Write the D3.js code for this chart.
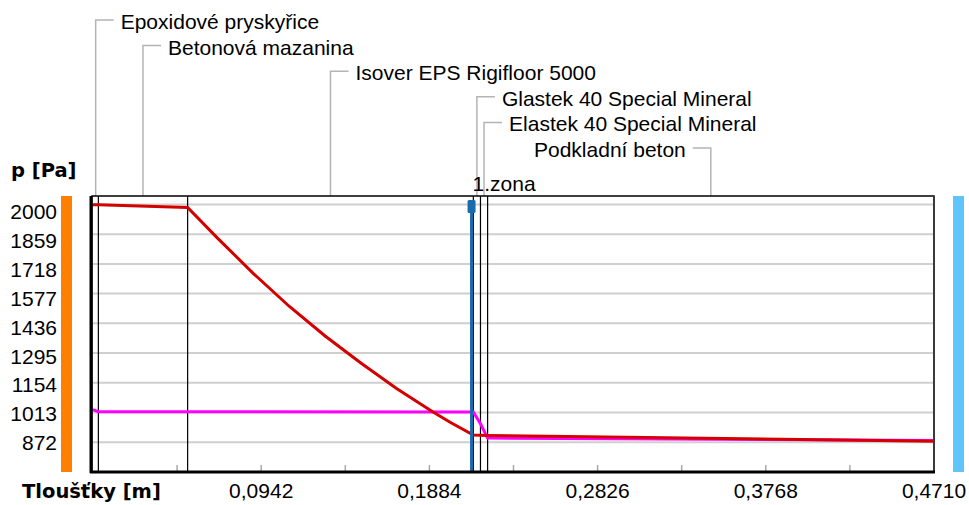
<!DOCTYPE html>
<html>
<head>
<meta charset="utf-8">
<script src="https://cdn.jsdelivr.net/npm/d3@7"></script>
<style>
  html, body { margin: 0; padding: 0; background: #fff; }
  text { font-family: "Liberation Sans", Arial, sans-serif; font-size: 21px; fill: #000; }
  .bold { font-family: "DejaVu Sans", sans-serif; font-weight: bold; font-size: 19.5px; }
</style>
</head>
<body>
<div id="chart"></div>
<script>
// layers of the construction (top -> bottom) and their thickness [m]
const layerNames = [
  "Epoxidové pryskyřice",
  "Betonová mazanina",
  "Isover EPS Rigifloor 5000",
  "Glastek 40 Special Mineral",
  "Elastek 40 Special Mineral",
  "Podkladní beton"
];
const layerThickness = [0.003, 0.05, 0.16, 0.004, 0.004, 0.25];

// red curve (saturated pressure) and magenta curve (partial pressure) [m, Pa]
const pSatX = [0, 0.003, 0.053, 0.07, 0.09, 0.11, 0.13, 0.15, 0.17, 0.19, 0.2, 0.213, 0.217, 0.221, 0.471];
const pSatV = [1999, 1998, 1986, 1838, 1671, 1516, 1376, 1248, 1127, 1018, 967, 906, 905, 904, 877];
const pX = [0, 0.003, 0.213, 0.217, 0.221, 0.471];
const pV = [1027, 1017, 1016, 960, 892, 880];

// condensation zone
const zoneX = [0.212];
const zoneLabels = ["1.zona"];

const yTicks = [2000, 1859, 1718, 1577, 1436, 1295, 1154, 1013, 872];
const xMinorTicks = [0.0471, 0.0942, 0.1413, 0.1884, 0.2355, 0.2826, 0.3297, 0.3768, 0.4239];
const xTickLabels = [0.0942, 0.1884, 0.2826, 0.3768, 0.471];

function init() {
  const W = 969, H = 505;
  const left = 93, right = 934, top = 196, bottom = 472;

  const svg = d3.select("#chart").append("svg")
    .attr("width", W).attr("height", H);

  const x = d3.scaleLinear().domain([0, 0.471]).range([left, right]);
  const y = d3.scaleLinear().domain([731, 2040]).range([bottom, top]);
  // tick labels sit a bit off the grid lines in the original
  const yLab = d3.scaleLinear().domain([872, 2000]).range([442.5, 211.7]);

  // layer boundaries
  const bounds = d3.cumsum(layerThickness);
  const starts = [0, ...bounds.slice(0, -1)];

  // side bars
  svg.append("rect").attr("x", 61).attr("y", top).attr("width", 11)
    .attr("height", bottom - top).attr("fill", "#ff8000");
  svg.append("rect").attr("x", 953).attr("y", top).attr("width", 11)
    .attr("height", bottom - top).attr("fill", "#5ec4fb");

  // grid
  svg.append("g").selectAll("line").data(yTicks).join("line")
    .attr("x1", left).attr("x2", right)
    .attr("y1", d => y(d)).attr("y2", d => y(d))
    .attr("stroke", "#cfcfcf").attr("stroke-width", 2);

  // y labels
  svg.append("g").selectAll("text").data(yTicks).join("text")
    .attr("x", 57).attr("y", d => yLab(d)).attr("dy", "0.36em")
    .attr("text-anchor", "end").text(d => d);

  svg.append("text").attr("class", "bold").attr("x", 11).attr("y", 177).text("p [Pa]");
  svg.append("text").attr("class", "bold").attr("x", 22).attr("y", 498).text("Tloušťky [m]");

  // minor ticks at bottom
  svg.append("g").selectAll("line").data(xMinorTicks).join("line")
    .attr("x1", d => x(d)).attr("x2", d => x(d))
    .attr("y1", bottom - 7).attr("y2", bottom)
    .attr("stroke", "#a8a8a8").attr("stroke-width", 1.5);

  svg.append("g").selectAll("text").data(xTickLabels).join("text")
    .attr("x", d => x(d)).attr("y", 498)
    .attr("text-anchor", "middle")
    .text(d => d.toFixed(4).replace(".", ","));

  // boundaries inside the plot
  svg.append("g").selectAll("line").data(bounds.slice(0, -1)).join("line")
    .attr("x1", d => x(d)).attr("x2", d => x(d))
    .attr("y1", top).attr("y2", bottom)
    .attr("stroke", "#000").attr("stroke-width", 1.2);

  // layer labels with leader lines
  const rowY = (i) => 20 + i * 25.6;
  const labels = svg.append("g");
  layerNames.forEach((name, i) => {
    const mx = x((starts[i] + bounds[i]) / 2);
    const ry = rowY(i);
    const toLeft = i === layerNames.length - 1;
    labels.append("path")
      .attr("d", toLeft
        ? `M${mx - 18},${ry}H${mx}V${top}`
        : `M${mx + 18},${ry}H${mx}V${top}`)
      .attr("fill", "none").attr("stroke", "#b4b4b4").attr("stroke-width", 1.5);
    labels.append("text")
      .attr("x", toLeft ? mx - 25 : mx + 25)
      .attr("y", ry + 9)
      .attr("text-anchor", toLeft ? "end" : "start")
      .text(name);
  });

  const line = d3.line().x(d => x(d[0])).y(d => y(d[1]));

  svg.append("path").datum(d3.zip(pX, pV))
    .attr("d", line).attr("fill", "none")
    .attr("stroke", "#ff00ff").attr("stroke-width", 3);

  svg.append("path").datum(d3.zip(pSatX, pSatV))
    .attr("d", line).attr("fill", "none")
    .attr("stroke", "#d40000").attr("stroke-width", 3);

  // condensation zone marker
  zoneX.forEach((z, i) => {
    const zx = x(z);
    svg.append("line").attr("x1", zx).attr("x2", zx)
      .attr("y1", 200).attr("y2", bottom)
      .attr("stroke", "#1a6aae").attr("stroke-width", 3);
    svg.append("rect").attr("x", zx - 4).attr("y", 200).attr("width", 8)
      .attr("height", 13).attr("rx", 1.5).attr("fill", "#1a6aae");
    svg.append("text").attr("x", zx + 1).attr("y", 191).text(zoneLabels[i]);
  });

  // frame
  svg.append("rect").attr("x", left - 1).attr("y", top)
    .attr("width", right - left + 1).attr("height", bottom - top)
    .attr("fill", "none").attr("stroke", "#000").attr("stroke-width", 1.5);
  svg.append("line").attr("x1", right).attr("x2", right)
    .attr("y1", top).attr("y2", bottom)
    .attr("stroke", "#3a3a3a").attr("stroke-width", 2);
  svg.append("line").attr("x1", left - 2).attr("x2", left - 2)
    .attr("y1", top).attr("y2", bottom + 1)
    .attr("stroke", "#000").attr("stroke-width", 3);
  svg.append("line").attr("x1", left - 3).attr("x2", right + 1)
    .attr("y1", bottom).attr("y2", bottom)
    .attr("stroke", "#000").attr("stroke-width", 3);
}

window.addEventListener("load", init);
</script>
</body>
</html>
